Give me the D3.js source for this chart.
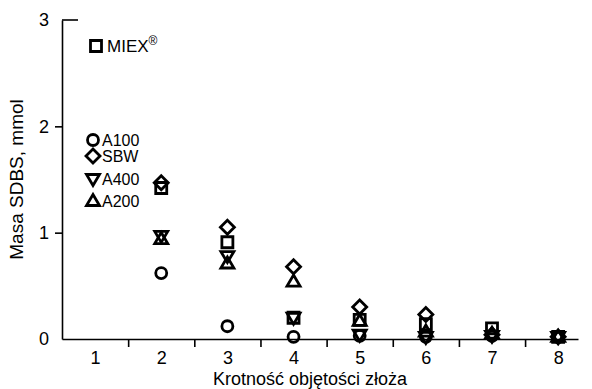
<!DOCTYPE html>
<html>
<head>
<meta charset="utf-8">
<script src="https://cdn.jsdelivr.net/npm/d3@7"></script>
<style>
  body { margin: 0; background: #fff; }
  svg { display: block; font-family: "Liberation Sans", Arial, sans-serif; }
</style>
</head>
<body>
<div id="chart"></div>
<script>
// bed volume multiples
const xValues = [2, 3, 4, 5, 6, 7, 8];
const xTickLabels = [1, 2, 3, 4, 5, 6, 7, 8];
const yTickLabels = [0, 1, 2, 3];

// SDBS mass, mmol
const miex = [1.42, 0.91, 0.20, 0.18, 0.14, 0.10, 0.02];
const a100 = [0.62, 0.12, 0.02, 0.03, 0.02, 0.03, 0.02];
const sbw  = [1.47, 1.05, 0.68, 0.30, 0.23, 0.04, 0.02];
const a400 = [0.97, 0.78, 0.20, 0.04, 0.02, 0.03, 0.02];
const a200 = [0.94, 0.71, 0.54, 0.17, 0.07, 0.05, 0.02];

const width = 592, height = 389;
const margin = { top: 20, right: 14, bottom: 50, left: 62 };

const x = d3.scaleLinear().domain([0.5, 8.3]).range([margin.left, width - margin.right]);
const y = d3.scaleLinear().domain([0, 3]).range([height - margin.bottom, margin.top]);

const svg = d3.select('#chart').append('svg')
  .attr('width', width)
  .attr('height', height);

// marker shapes, centred on 0,0
const shapes = {
  circle: 'M5.5,0A5.5,5.5 0 1,1 -5.5,0A5.5,5.5 0 1,1 5.5,0Z',
  square: 'M-5.5,-5.5H5.5V5.5H-5.5Z',
  diamond: 'M0,-7L7,0L0,7L-7,0Z',
  down: 'M-6.5,-4.5H6.5L0,6.5Z',
  up: 'M0,-6.5L6.5,4.5H-6.5Z'
};

const series = [
  { name: 'A100', values: a100, shape: 'circle' },
  { name: 'A400', values: a400, shape: 'down' },
  { name: 'A200', values: a200, shape: 'up' },
  { name: 'MIEX', values: miex, shape: 'square' },
  { name: 'SBW', values: sbw, shape: 'diamond' }
];

// axes
const yAxis = svg.append('g')
  .attr('transform', `translate(${margin.left},0)`)
  .call(d3.axisLeft(y).tickValues(yTickLabels).tickFormat(d3.format('d'))
    .tickSize(7).tickSizeOuter(0).tickPadding(6));
yAxis.select('.domain').attr('stroke-width', 1.6);
yAxis.selectAll('.tick line')
  .attr('stroke-width', 1.6)
  .attr('display', d => (d === 0 || d === 3) ? 'none' : null);
yAxis.selectAll('.tick text').attr('font-size', 18).attr('fill', '#000');

svg.append('line')
  .attr('x1', margin.left).attr('x2', margin.left + 16)
  .attr('y1', y(3)).attr('y2', y(3))
  .attr('stroke', '#000').attr('stroke-width', 1.6);

const xAxis = svg.append('g')
  .attr('transform', `translate(0,${y(0)})`)
  .call(d3.axisBottom(x).tickValues(xTickLabels).tickSize(0).tickSizeOuter(0).tickPadding(12));
xAxis.select('.domain').attr('stroke-width', 1.6);
xAxis.selectAll('.tick text').attr('font-size', 18).attr('fill', '#000');

const xTicks = svg.append('g')
  .attr('transform', `translate(0,${y(0)})`)
  .call(d3.axisBottom(x).tickValues(xTickLabels.slice(0, -1).map(d => d + 0.5))
    .tickSize(8).tickSizeOuter(0).tickFormat(''));
xTicks.select('.domain').remove();
xTicks.selectAll('.tick line').attr('stroke-width', 1.6);

svg.append('text')
  .attr('x', 310)
  .attr('y', height - 4)
  .attr('text-anchor', 'middle')
  .attr('font-size', 18)
  .text('Krotność objętości złoża');

svg.append('text')
  .attr('transform', `translate(23,${(y(0) + y(3)) / 2}) rotate(-90)`)
  .attr('text-anchor', 'middle')
  .attr('font-size', 19)
  .text('Masa SDBS, mmol');

// points
series.forEach(s => {
  svg.append('g').selectAll('path')
    .data(s.values)
    .join('path')
    .attr('d', shapes[s.shape])
    .attr('transform', (d, i) => `translate(${x(xValues[i])},${y(d)})`)
    .attr('fill', 'none')
    .attr('stroke', '#000')
    .attr('stroke-width', 2.8);
});

// legend
const legendItems = [
  { label: 'MIEX', shape: 'square', ly: 46, sup: '®' },
  { label: 'A100', shape: 'circle', ly: 140 },
  { label: 'SBW', shape: 'diamond', ly: 156 },
  { label: 'A400', shape: 'down', ly: 179 },
  { label: 'A200', shape: 'up', ly: 201 }
];

const legend = svg.append('g');
legendItems.forEach(item => {
  legend.append('path')
    .attr('d', shapes[item.shape])
    .attr('transform', `translate(${item.shape === 'square' ? 96 : 93},${item.ly})`)
    .attr('fill', 'none')
    .attr('stroke', '#000')
    .attr('stroke-width', 2.8);
  const t = legend.append('text')
    .attr('x', item.shape === 'square' ? 107 : 102)
    .attr('y', item.ly + 6)
    .attr('font-size', item.sup ? 17 : 16)
    .text(item.label);
  if (item.sup) {
    t.append('tspan').attr('dy', -7).attr('font-size', 12).text(item.sup);
  }
});
</script>
</body>
</html>
